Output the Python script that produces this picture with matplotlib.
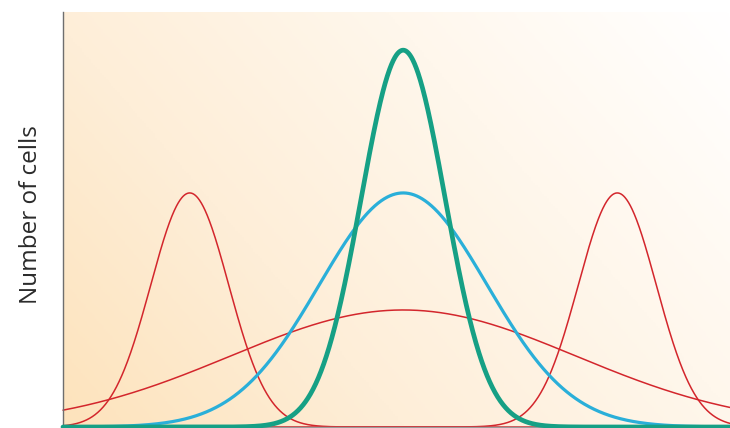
import matplotlib.pyplot as plt
import numpy as np
from matplotlib.colors import LinearSegmentedColormap

# curve parameters (x and y in 0-100 axis units)
curve_names = ['red_left', 'red_right', 'red_wide', 'blue', 'green']
peak_centers = [19.0, 83.1, 51.0, 51.0, 51.0]
peak_heights = [56.4, 56.4, 28.2, 56.4, 90.8]
peak_sigmas = [5.85, 5.85, 25.9, 12.6, 6.3]
line_colors = ['#d3262c', '#d3262c', '#d3262c', '#2aafd9', '#16a085']
line_widths = [1.1, 1.1, 1.1, 2.3, 3.4]
draw_order = [1, 1, 1, 2, 3]

Y_LABEL = 'Number of cells'


def gaussian(x, mu, height, sigma):
    return height * np.exp(-(x - mu) ** 2 / (2 * sigma ** 2))


fig = plt.figure(figsize=(7.3, 4.28), dpi=100)
ax = fig.add_axes([63 / 730, 1 / 428, 1 - 63 / 730, 415 / 428])

# warm background fading from bottom-left to top-right
bg_cmap = LinearSegmentedColormap.from_list(
    'warm', ['#fde3bc', '#feeed8', '#fff7ec', '#ffffff'])
gx, gy = np.meshgrid(np.linspace(0, 1, 300), np.linspace(0, 1, 200))
grad = (gx * 0.75 + gy * 0.4) / 1.15
ax.imshow(grad, cmap=bg_cmap, extent=[0, 100, 0, 100], origin='lower',
          aspect='auto', zorder=0)

x = np.linspace(0, 100, 1500)
for name, mu, h, s, c, lw, z in zip(curve_names, peak_centers, peak_heights,
                                     peak_sigmas, line_colors, line_widths,
                                     draw_order):
    ax.plot(x, gaussian(x, mu, h, s), color=c, lw=lw, zorder=z,
            clip_on=False, solid_capstyle='round')

ax.set_xlim(0, 100)
ax.set_ylim(0, 100)
ax.set_xticks([])
ax.set_yticks([])
for side in ['top', 'right']:
    ax.spines[side].set_visible(False)
ax.spines['left'].set_color('#6e6e6e')
ax.spines['left'].set_linewidth(1.0)
ax.spines['bottom'].set_color('#9a9a9a')
ax.spines['bottom'].set_linewidth(1.0)

fig.text(31 / 730, 1 - 215 / 428, Y_LABEL, rotation=90, ha='center',
         va='center', fontsize=17.5, color='#2b2b2b', family='Open Sans')

fig.savefig('out.png', dpi=100)
